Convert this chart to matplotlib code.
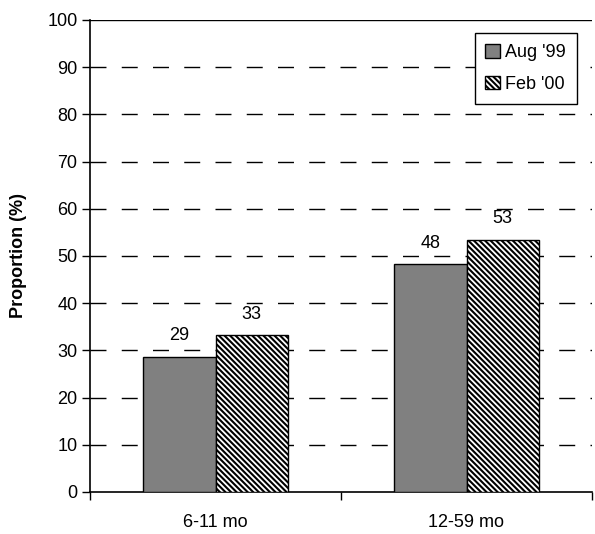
import matplotlib
matplotlib.use('Agg')
import matplotlib.pyplot as plt
import numpy as np

# data
categories = ['6-11 mo', '12-59 mo']
series_names = ["Aug '99", "Feb '00"]
aug_99 = [28.7, 48.3]
feb_00 = [33.2, 53.4]
yticks = list(range(0, 101, 10))

plt.rcParams['font.family'] = ['Liberation Sans', 'DejaVu Sans']
plt.rcParams['hatch.linewidth'] = 1.5

fig = plt.figure(figsize=(5.95, 5.34), dpi=100)
ax = fig.add_axes([90 / 595, 1 - 492 / 534, (592 - 90) / 595, (492 - 20) / 534])

x = np.arange(len(categories))
w = 0.287

b1 = ax.bar(x - w / 2, aug_99, w, color='#808080', edgecolor='black', linewidth=1, label=series_names[0], zorder=3)
b2 = ax.bar(x + w / 2, feb_00, w, color='white', edgecolor='black', linewidth=1, hatch='\\' * 6,
            label=series_names[1], zorder=3)

# value labels
for bars, vals in [(b1, aug_99), (b2, feb_00)]:
    for rect, v in zip(bars, vals):
        ax.annotate(f'{v:.0f}', (rect.get_x() + rect.get_width() / 2, v), xytext=(0, 9),
                    textcoords='offset points', ha='center', va='bottom', fontsize=13)

ax.set_xlim(-0.5, 1.5)
ax.set_ylim(0, 100)
ax.set_yticks(yticks)
ax.tick_params(axis='y', labelsize=13, length=6, width=1, direction='out', pad=3)

# dashed gridlines, solid line at the top
for t in yticks[1:-1]:
    ax.axhline(t, color='black', lw=1, linestyle=(0, (11.5, 11)), zorder=1)
ax.axhline(100, color='black', lw=1, zorder=1)

# category labels centered, tick marks on the boundaries
ax.set_xticks(x)
ax.set_xticklabels(categories)
ax.tick_params(axis='x', which='major', length=0, labelsize=13, pad=16)
ax.set_xticks([-0.5, 0.5, 1.5], minor=True)
ax.tick_params(axis='x', which='minor', length=6, width=1, direction='out')

for s in ['top', 'right']:
    ax.spines[s].set_visible(False)
for s in ['left', 'bottom']:
    ax.spines[s].set_linewidth(1.2)

ax.set_ylabel('Proportion (%)', fontsize=13, fontweight='bold')
ax.yaxis.set_label_coords(-0.125, 0.5)

leg = ax.legend(loc='upper right', bbox_to_anchor=(0.97, 0.972), borderaxespad=0, fontsize=13,
                frameon=True, fancybox=False, edgecolor='black', framealpha=1, handlelength=0.8,
                handleheight=0.8, handletextpad=0.3, borderpad=0.6, labelspacing=0.8)
leg.get_frame().set_linewidth(1)

fig.savefig('out.png', dpi=100)
